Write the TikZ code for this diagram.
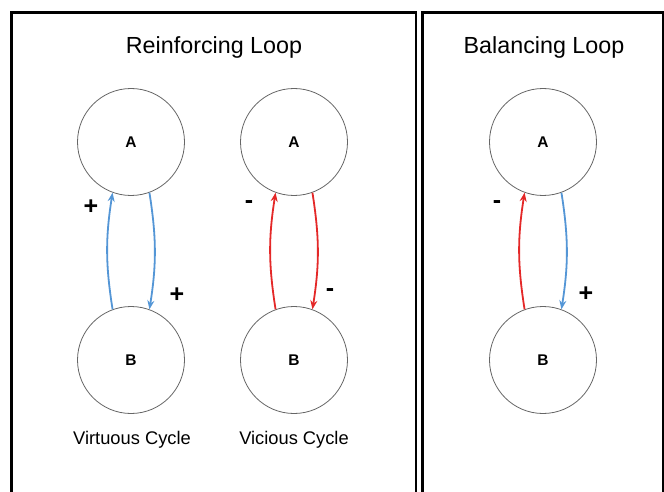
\documentclass[tikz,border=0pt]{standalone}
\usepackage{fontspec}
\setmainfont{Liberation Sans}
\usetikzlibrary{arrows.meta}
\definecolor{loopblue}{RGB}{84,150,214}
\definecolor{loopred}{RGB}{228,40,40}
\tikzset{
  panel/.style={draw=black, line width=2.2pt},
  var/.style={circle, draw=black!60, line width=0.8pt, minimum size=107pt, inner sep=0pt, font=\fontsize{15.5}{18}\selectfont\bfseries},
  link/.style={line width=1.8pt, -{Stealth[length=9pt,width=7pt]}, bend left=9},
  poslink/.style={loopblue, link},
  neglink/.style={loopred, link},
  sign/.style={font=\fontsize{25}{28}\selectfont\bfseries, inner sep=0pt},
  heading/.style={font=\fontsize{23.3}{27}\selectfont},
  caption/.style={font=\fontsize{18.3}{21}\selectfont}
}
\begin{document}
\begin{tikzpicture}[x=1pt, y=-1pt]
\useasboundingbox (0,0) rectangle (664,492);
\fill[white] (0,0) rectangle (664,492);
\begin{scope}
\clip (0,0) rectangle (664,492);
\draw[panel] (11.5,12.5) rectangle (416,500);
\draw[panel] (422.5,12.5) rectangle (663,500);
\end{scope}

\node[heading] (t1) at (214,47) {Reinforcing Loop};
\node[heading] (t2) at (544,47) {Balancing Loop};

% virtuous cycle
\node[var] (a1) at (131,142) {A};
\node[var] (b1) at (131,360) {B};
\draw[poslink] (b1.110) to (a1.250);
\draw[poslink] (a1.290) to (b1.70);
\node[sign] (s1) at (91,207) {+};
\node[sign] (s2) at (177,295) {+};
\node[caption] (c1) at (132,440) {Virtuous Cycle};

% vicious cycle
\node[var] (a2) at (294,142) {A};
\node[var] (b2) at (294,360) {B};
\draw[neglink] (b2.110) to (a2.250);
\draw[neglink] (a2.290) to (b2.70);
\node[sign] (s3) at (249,205) {-};
\node[sign] (s4) at (330,293) {-};
\node[caption] (c2) at (294,440) {Vicious Cycle};

% balancing loop
\node[var] (a3) at (543,142) {A};
\node[var] (b3) at (543,360) {B};
\draw[neglink] (b3.110) to (a3.250);
\draw[poslink] (a3.290) to (b3.70);
\node[sign] (s5) at (497,205) {-};
\node[sign] (s6) at (586,294) {+};
\end{tikzpicture}
\end{document}
